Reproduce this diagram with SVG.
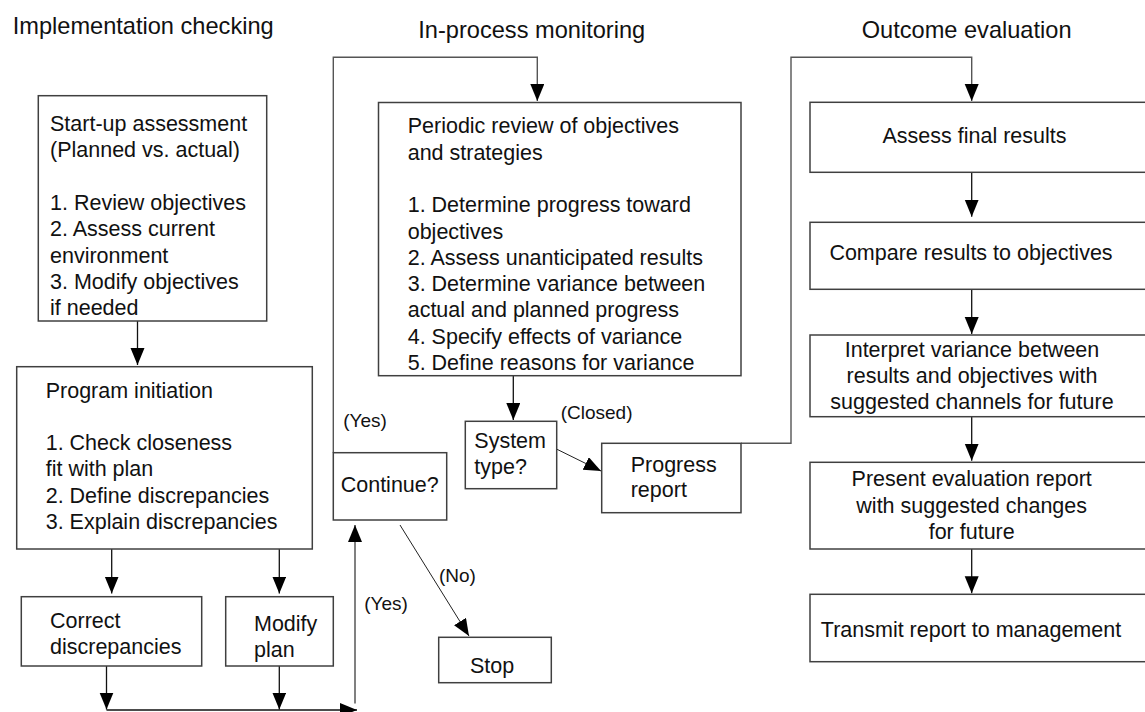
<svg xmlns="http://www.w3.org/2000/svg" width="1145" height="712" viewBox="0 0 1145 712">
<style>
.box{fill:#fff;stroke:#404040;stroke-width:1.5}
.t{font-family:"Liberation Sans",Arial,sans-serif;font-size:21.5px;fill:#111}
.c{text-anchor:middle}
.h{font-family:"Liberation Sans",Arial,sans-serif;font-size:23.6px;fill:#111}
.l{font-family:"Liberation Sans",Arial,sans-serif;font-size:19px;fill:#111}
.ln{fill:none;stroke:#111;stroke-width:1.3}
.lg{fill:none;stroke:#555;stroke-width:1.4}
.thin{fill:none;stroke:#222;stroke-width:1}
</style>
<defs>
<marker id="ah" markerUnits="userSpaceOnUse" markerWidth="18" markerHeight="15" refX="17" refY="7" orient="auto">
<path d="M0,0 L17,7 L0,14 z" fill="#000"/>
</marker>
</defs>
<rect width="1145" height="712" fill="#fff"/>
<g id="titles">
<text class="h" x="12.7" y="33.5">Implementation checking</text>
<text class="h" x="418.3" y="37.7">In-process monitoring</text>
<text class="h" x="861.7" y="37.7">Outcome evaluation</text>
</g>
<g id="connectors">
<polyline class="lg" points="333.3,452.7 333.3,57.3 537.3,57.3 537.3,101" marker-end="url(#ah)"/>
<polyline class="lg" points="741,443.3 791,443.3 791,57.3 971.7,57.3 971.7,101" marker-end="url(#ah)"/>
<line class="ln" x1="137.5" y1="321" x2="137.5" y2="365" marker-end="url(#ah)"/>
<line class="ln" x1="111.7" y1="549" x2="111.7" y2="593.5" marker-end="url(#ah)"/>
<line class="ln" x1="279.3" y1="549" x2="279.3" y2="593.5" marker-end="url(#ah)"/>
<line class="ln" x1="106.5" y1="666" x2="106.5" y2="709.5" marker-end="url(#ah)"/>
<line class="ln" x1="279.3" y1="666" x2="279.3" y2="709.5" marker-end="url(#ah)"/>
<line class="ln" x1="106.5" y1="710" x2="357" y2="710" marker-end="url(#ah)"/>
<line x1="355" y1="703.5" x2="355" y2="525" stroke="#808080" stroke-width="2" marker-end="url(#ah)"/>
<line class="ln" x1="513.3" y1="375.7" x2="513.3" y2="420" marker-end="url(#ah)"/>
<line class="thin" x1="555" y1="448.3" x2="601" y2="471" marker-end="url(#ah)"/>
<line class="thin" x1="400" y1="525" x2="469" y2="636" marker-end="url(#ah)"/>
<line class="ln" x1="971.7" y1="172.3" x2="971.7" y2="216.7" marker-end="url(#ah)"/>
<line class="ln" x1="971.7" y1="289.3" x2="971.7" y2="334" marker-end="url(#ah)"/>
<line class="ln" x1="971.7" y1="416.7" x2="971.7" y2="460.7" marker-end="url(#ah)"/>
<line class="ln" x1="971.7" y1="549" x2="971.7" y2="593.3" marker-end="url(#ah)"/>
<text class="l" x="343.3" y="427">(Yes)</text>
<text class="l" x="364.3" y="610">(Yes)</text>
<text class="l" x="439" y="582.3">(No)</text>
<text class="l" x="560.7" y="419.3">(Closed)</text>
</g>
<g id="startup">
<rect class="box" x="38.3" y="95.7" width="228.4" height="225.3"/>
<text class="t" x="50" y="131">Start-up assessment</text>
<text class="t" x="50" y="157.3">(Planned vs. actual)</text>
<text class="t" x="50" y="209.9">1. Review objectives</text>
<text class="t" x="50" y="236.2">2. Assess current</text>
<text class="t" x="50" y="262.5">environment</text>
<text class="t" x="50" y="288.8">3. Modify objectives</text>
<text class="t" x="50" y="315.1">if needed</text>
</g>
<g id="program-initiation">
<rect class="box" x="16.7" y="366.7" width="295.6" height="182.3"/>
<text class="t" x="45.7" y="398.3">Program initiation</text>
<text class="t" x="45.7" y="450">1. Check closeness</text>
<text class="t" x="45.7" y="476.4">fit with plan</text>
<text class="t" x="45.7" y="502.7">2. Define discrepancies</text>
<text class="t" x="45.7" y="529">3. Explain discrepancies</text>
</g>
<g id="correct">
<rect class="box" x="21.3" y="596.7" width="180.4" height="69.3"/>
<text class="t" x="50" y="627.7">Correct</text>
<text class="t" x="50" y="653.5">discrepancies</text>
</g>
<g id="modify">
<rect class="box" x="225.7" y="596.7" width="107.6" height="69.3"/>
<text class="t" x="254" y="631">Modify</text>
<text class="t" x="254" y="657">plan</text>
</g>
<g id="periodic">
<rect class="box" x="378.5" y="102.5" width="362.5" height="273.2"/>
<text class="t" x="407.7" y="133.3">Periodic review of objectives</text>
<text class="t" x="407.7" y="159.6">and strategies</text>
<text class="t" x="407.7" y="212.4">1. Determine progress toward</text>
<text class="t" x="407.7" y="238.6">objectives</text>
<text class="t" x="407.7" y="265.1">2. Assess unanticipated results</text>
<text class="t" x="407.7" y="291.2">3. Determine variance between</text>
<text class="t" x="407.7" y="317.4">actual and planned progress</text>
<text class="t" x="407.7" y="343.8">4. Specify effects of variance</text>
<text class="t" x="407.7" y="370.2">5. Define reasons for variance</text>
</g>
<g id="continue">
<rect class="box" x="333.3" y="452.7" width="113.4" height="67.3"/>
<text class="t" x="340.7" y="492.3">Continue?</text>
</g>
<g id="system-type">
<rect class="box" x="465.3" y="421.3" width="91.4" height="67.4"/>
<text class="t" x="474.3" y="448">System</text>
<text class="t" x="474.3" y="474">type?</text>
</g>
<g id="progress-report">
<rect class="box" x="601.7" y="443.3" width="139.3" height="69.4"/>
<text class="t" x="630.7" y="471.5">Progress</text>
<text class="t" x="630.7" y="497.3">report</text>
</g>
<g id="stop">
<rect class="box" x="438.7" y="637.3" width="112.6" height="45.4"/>
<text class="t" x="470" y="672.7">Stop</text>
</g>
<g id="assess">
<rect class="box" x="810" y="102.3" width="345" height="70"/>
<text class="t c" x="974.5" y="142.7">Assess final results</text>
</g>
<g id="compare">
<rect class="box" x="810" y="222.3" width="345" height="67"/>
<text class="t c" x="971" y="260">Compare results to objectives</text>
</g>
<g id="interpret">
<rect class="box" x="810" y="335" width="345" height="81.7"/>
<text class="t c" x="972" y="356.7">Interpret variance between</text>
<text class="t c" x="972" y="382.8">results and objectives with</text>
<text class="t c" x="972" y="409.3">suggested channels for future</text>
</g>
<g id="present">
<rect class="box" x="810" y="462.3" width="345" height="86.7"/>
<text class="t c" x="971.7" y="486">Present evaluation report</text>
<text class="t c" x="971.7" y="512.7">with suggested changes</text>
<text class="t c" x="971.7" y="539.3">for future</text>
</g>
<g id="transmit">
<rect class="box" x="810" y="594.3" width="345" height="67.4"/>
<text class="t c" x="971" y="636.7">Transmit report to management</text>
</g>
</svg>
